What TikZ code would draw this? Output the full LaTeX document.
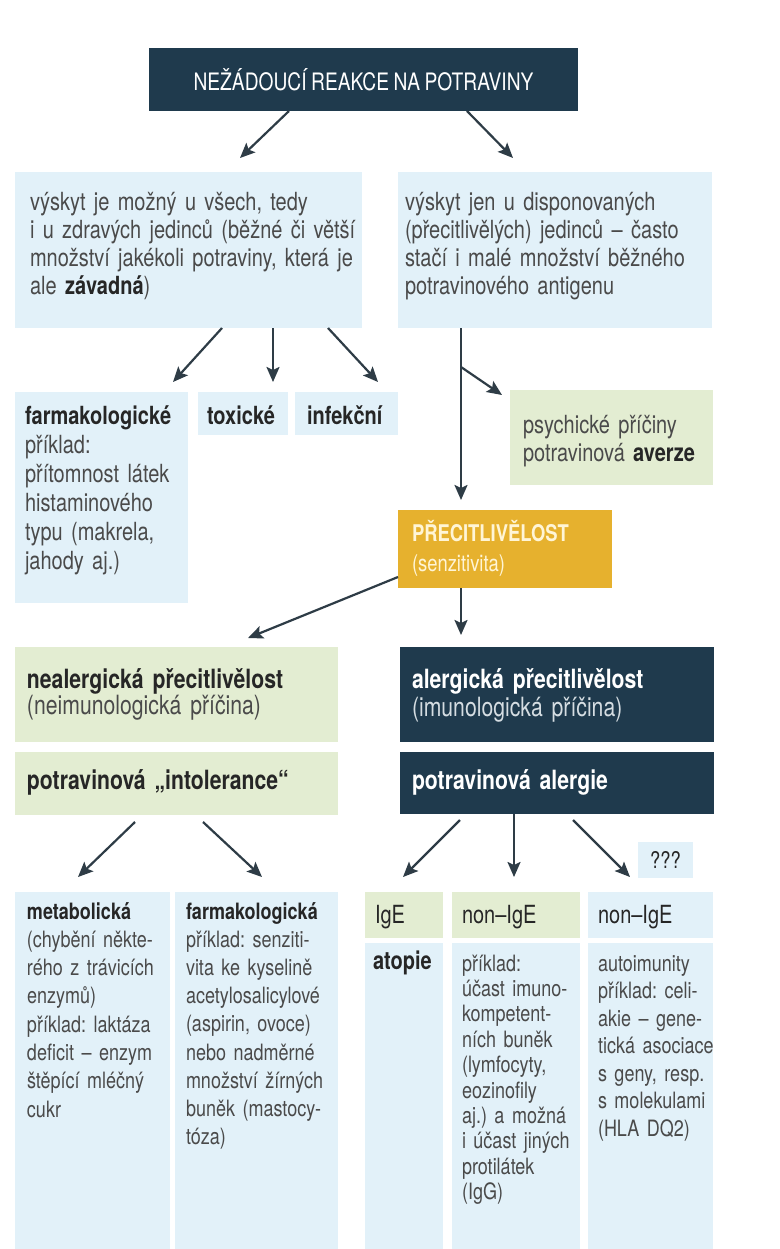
\documentclass[tikz,border=0pt]{standalone}
\usepackage{fontspec}
\setmainfont{TeX Gyre Heros}[FakeStretch=0.80,WordSpace=0.85]
\usetikzlibrary{arrows.meta,calc}
\definecolor{navy}{HTML}{1F3A4D}
\definecolor{lblue}{HTML}{E2F1F9}
\definecolor{lgreen}{HTML}{E3EDD2}
\definecolor{gold}{HTML}{E6B12E}
\definecolor{arrc}{HTML}{2E3C46}
\definecolor{bodyc}{HTML}{4A4A4A}
\definecolor{darkc}{HTML}{262626}
\definecolor{paleyel}{HTML}{FFF5D6}
\definecolor{navysub}{HTML}{D5DDE2}
\newcommand{\fs}[2]{\fontsize{#1}{#2}\selectfont\frenchspacing}
\newcommand{\hb}[1]{\textbf{\color{darkc}#1}}
\begin{document}
\frenchspacing
\begin{tikzpicture}[x=1pt,y=-1pt,
  box/.style={anchor=north west, inner sep=0pt, outer sep=0pt, draw=none},
  txt/.style={anchor=base west, inner sep=0pt, outer sep=0pt, align=left, text=bodyc},
  arr/.style={draw=arrc, line width=2.2pt, -{Stealth[length=15pt,width=13pt,inset=3pt]}}]
\fill[white] (0,0) rectangle (779,1249);
\useasboundingbox (0,0) rectangle (779,1249);

% ---------- boxes ----------
\node[box, fill=navy, minimum width=429pt, minimum height=63pt, text=white, font=\fs{24}{28}] (top) at (149,48) {NEŽÁDOUCÍ REAKCE NA POTRAVINY};
\node[box, fill=lblue, minimum width=347pt, minimum height=156pt] (lbox) at (15,172) {};
\node[box, fill=lblue, minimum width=314pt, minimum height=156pt] (rbox) at (398,172) {};
\node[box, fill=lblue, minimum width=173pt, minimum height=211pt] (farm1) at (15,392) {};
\node[box, fill=lblue, minimum width=90pt, minimum height=43pt] (tox) at (198,392) {};
\node[box, fill=lblue, minimum width=103pt, minimum height=43pt] (inf) at (295,392) {};
\node[box, fill=lgreen, minimum width=203pt, minimum height=95pt] (psy) at (510,390) {};
\node[box, fill=gold, minimum width=214pt, minimum height=78pt] (prec) at (398,510) {};
\node[box, fill=lgreen, minimum width=323pt, minimum height=95pt] (neal) at (15,647) {};
\node[box, fill=lgreen, minimum width=323pt, minimum height=63pt] (intol) at (15,752) {};
\node[box, fill=navy, minimum width=314pt, minimum height=95pt] (alerg) at (400,647) {};
\node[box, fill=navy, minimum width=314pt, minimum height=62pt] (alergie) at (400,752) {};
\node[box, fill=lblue, minimum width=55pt, minimum height=36pt, text=darkc, font=\fs{23}{26}] (qqq) at (638,842) {???};
\node[box, fill=lblue, minimum width=155pt, minimum height=357pt] (metab) at (15,892) {};
\node[box, fill=lblue, minimum width=163pt, minimum height=357pt] (farm2) at (175,892) {};
\node[box, fill=lgreen, minimum width=78pt, minimum height=46pt] (igeh) at (365,892) {};
\node[box, fill=lgreen, minimum width=128pt, minimum height=46pt] (nonigeh) at (452,892) {};
\node[box, fill=lblue, minimum width=125pt, minimum height=46pt] (nonigeth) at (588,892) {};
\node[box, fill=lblue, minimum width=78pt, minimum height=306pt] (igeb) at (365,943) {};
\node[box, fill=lblue, minimum width=128pt, minimum height=306pt] (nonigeb) at (452,943) {};
\node[box, fill=lblue, minimum width=125pt, minimum height=306pt] (nonigetb) at (588,943) {};

% ---------- texts ----------
\node[txt, text width=330pt, font=\fs{25}{27.7}] (lboxt) at (30,211)
 {výskyt je možný u všech, tedy\\ i u zdravých jedinců (běžné či větší\\ množství jakékoli potraviny, která je\\ ale \hb{závadná})};
\node[txt, text width=305pt, font=\fs{25}{27.7}] (rboxt) at (405,211)
 {výskyt jen u disponovaných\\ (přecitlivělých) jedinců – často\\ stačí i malé množství běžného\\ potravinového antigenu};
\node[txt, text width=162pt, font=\fs{25}{29}] (farm1t) at (25,424)
 {\hb{farmakologické}\\ příklad:\\ přítomnost látek\\ histaminového\\ typu (makrela,\\ jahody aj.)};
\node[txt, text width=80pt, font=\fs{25}{29}] (toxt) at (207,424) {\hb{toxické}};
\node[txt, text width=90pt, font=\fs{25}{29}] (inft) at (307,424) {\hb{infekční}};
\node[txt, text width=190pt, font=\fs{25}{28}] (psyt) at (523,433)
 {psychické příčiny\\ potravinová \hb{averze}};
\node[txt, text=paleyel, text width=200pt, font=\fs{23}{30}] (prect) at (412,541)
 {\textbf{PŘECITLIVĚLOST}\\ (senzitivita)};
\node[txt, text width=315pt, font=\fs{26.5}{26.5}] (nealt) at (27,688)
 {\hb{nealergická přecitlivělost}\\ (neimunologická příčina)};
\node[txt, text width=315pt, font=\fs{26.5}{26.5}] (intolt) at (27,789)
 {\hb{potravinová „intolerance“}};
\node[txt, text=white, text width=300pt, font=\fs{26.5}{28}] (alergt) at (412,688)
 {\textbf{alergická přecitlivělost}\\ {\color{navysub}(imunologická příčina)}};
\node[txt, text=white, text width=300pt, font=\fs{26.5}{28}] (alergiet) at (412,789)
 {\textbf{potravinová alergie}};
\node[txt, text width=148pt, font=\fs{22.5}{28.3}] (metabt) at (27,919)
 {\hb{metabolická}\\ (chybění někte-\\ rého z trávicích\\ enzymů)\\ příklad: laktáza\\ deficit – enzym\\ štěpící mléčný\\ cukr};
\node[txt, text width=156pt, font=\fs{22.5}{28.2}] (farm2t) at (186,919)
 {\hb{farmakologická}\\ příklad: senziti-\\ vita ke kyselině\\ acetylosalicylové\\ (aspirin, ovoce)\\ nebo nadměrné\\ množství žírných\\ buněk (mastocy-\\ tóza)};
\node[txt, text=darkc, text width=70pt, font=\fs{25}{28}] (iget) at (375,923) {IgE};
\node[txt, text=darkc, text width=115pt, font=\fs{25}{28}] (nonigeht) at (462,923) {non–IgE};
\node[txt, text=darkc, text width=115pt, font=\fs{25}{28}] (nonigetht) at (598,923) {non–IgE};
\node[txt, text width=70pt, font=\fs{25}{28}] (atopt) at (373,969) {\hb{atopie}};
\node[txt, text width=120pt, font=\fs{22.5}{25.4}] (nonigebt) at (462,971)
 {příklad:\\ účast imuno-\\ kompetent-\\ ních buněk\\ (lymfocyty,\\ eozinofily\\ aj.) a možná\\ i účast jiných\\ protilátek\\ (IgG)};
\node[txt, text width=120pt, font=\fs{22.5}{27.5}] (nonigetbt) at (598,971)
 {autoimunity\\ příklad: celi-\\ akie – gene-\\ tická asociace\\ s geny, resp.\\ s molekulami\\ (HLA DQ2)};

% ---------- connectors ----------
\draw[arr] ($(top.south west)+(140,0)$) -- ($(lbox.north west)+(225,-14)$);
\draw[arr] ($(top.south west)+(318,0)$) -- ($(rbox.north west)+(115,-14)$);
\draw[arr] ($(lbox.south west)+(207,0)$) -- ($(farm1.north west)+(158,-10)$);
\draw[arr] ($(lbox.south west)+(258,0)$) -- ($(tox.north west)+(75,-10)$);
\draw[arr] ($(lbox.south west)+(313,0)$) -- ($(inf.north west)+(83,-10)$);
\coordinate (br) at ($(rbox.south west)+(63,39)$);
\draw[arr] ($(rbox.south west)+(63,0)$) -- ($(prec.north west)+(63,-10)$);
\draw[arr] (br) -- ($(psy.north west)+(-8,5)$);
\draw[arr] ($(prec.south west)+(0,-11)$) -- ($(neal.north west)+(233,-9)$);
\draw[arr] ($(prec.south west)+(63,0)$) -- ($(alerg.north west)+(61,-12)$);
\draw[arr] ($(intol.south west)+(120,7)$) -- ($(metab.north west)+(63,-15)$);
\draw[arr] ($(intol.south west)+(188,7)$) -- ($(farm2.north west)+(87,-15)$);
\draw[arr] ($(alergie.south west)+(60,6)$) -- ($(igeh.north west)+(38,-15)$);
\draw[arr] ($(alergie.south west)+(114,0)$) -- ($(nonigeh.north west)+(62,-15)$);
\draw[arr] ($(alergie.south west)+(173,6)$) -- ($(nonigeth.north west)+(42,-15)$);
\end{tikzpicture}
\end{document}
